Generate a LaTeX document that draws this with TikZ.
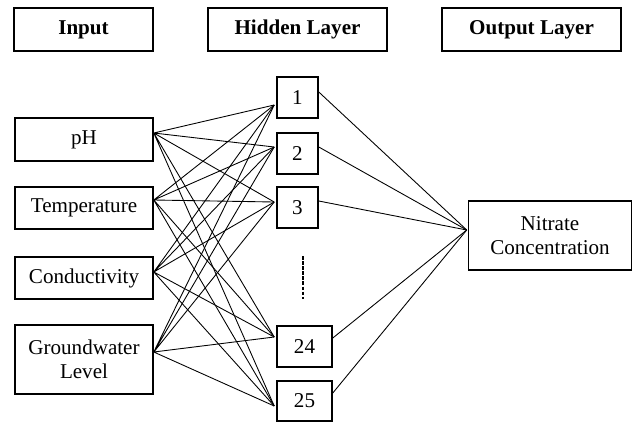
\documentclass[tikz,border=0pt]{standalone}
\usepackage{fontspec}
\setmainfont{Liberation Serif}

\begin{document}
\begin{tikzpicture}[x=0.02cm,y=-0.02cm,
  box/.style={draw,line width=0.9pt,inner sep=0pt,align=center,
    font=\fontsize{12}{13.5}\selectfont},
  head/.style={box,font=\fontsize{12}{13.5}\selectfont\bfseries,
    minimum width=3.58cm,minimum height=0.86cm},
  inbox/.style={box,minimum width=2.76cm,minimum height=0.84cm},
  hidbox/.style={box,minimum width=0.82cm,minimum height=0.82cm},
  link/.style={line width=0.5pt}]
  \useasboundingbox (0,0) rectangle (635,423);
  % column headings
  \node[head,minimum width=2.78cm] (HIn) at (83.5,29.5) {Input};
  \node[head] (HHid) at (297.5,29.5) {Hidden Layer};
  \node[head] (HOut) at (531.5,29.5) {Output Layer};
  % input variables
  \node[inbox,minimum height=0.86cm] (PH) at (84,139.5) {pH};
  \node[inbox] (TEMP) at (84,208) {Temperature};
  \node[inbox] (COND) at (84,278) {Conductivity};
  \node[inbox,minimum height=1.38cm] (GWL) at (84,359.5) {Groundwater\\Level};
  % hidden neurons
  \node[hidbox] (H1) at (297.5,97.5) {1};
  \node[hidbox] (H2) at (297.5,153.5) {2};
  \node[hidbox] (H3) at (297.5,207.5) {3};
  \node[hidbox,minimum width=1.1cm] (H24) at (304.5,346.5) {24};
  \node[hidbox,minimum width=1.1cm,minimum height=0.8cm] (H25) at (304.5,401) {25};
  % output
  \node[box,minimum width=3.26cm,minimum height=1.38cm] (NIT) at (550,235.5)
    {Nitrate\\Concentration};
  % ports where the links meet the boxes
  \coordinate (PHr) at ([yshift=0.13cm]PH.east);
  \coordinate (TEMPr) at ([yshift=0.16cm]TEMP.east);
  \coordinate (CONDr) at ([yshift=0.12cm]COND.east);
  \coordinate (GWLr) at ([yshift=0.15cm]GWL.east);
  \coordinate (H1l) at ([xshift=-0.04cm,yshift=-0.15cm]H1.west);
  \coordinate (H2l) at ([xshift=-0.04cm,yshift=0.13cm]H2.west);
  \coordinate (H3l) at ([xshift=-0.04cm,yshift=0.11cm]H3.west);
  \coordinate (H24l) at ([xshift=-0.04cm,yshift=0.19cm]H24.west);
  \coordinate (H25l) at ([xshift=-0.04cm,yshift=-0.1cm]H25.west);
  \coordinate (H1r) at ([yshift=0.11cm]H1.east);
  \coordinate (H2r) at ([yshift=0.13cm]H2.east);
  \coordinate (H3r) at ([yshift=0.13cm]H3.east);
  \coordinate (H24r) at ([yshift=0.17cm]H24.east);
  \coordinate (H25r) at ([yshift=0.16cm]H25.east);
  \coordinate (NITl) at ([xshift=-0.02cm,yshift=0.11cm]NIT.west);
  % input to hidden
  \draw[link] (PHr) -- (H1l) (PHr) -- (H2l) (PHr) -- (H3l) (PHr) -- (H24l) (PHr) -- (H25l);
  \draw[link] (TEMPr) -- (H1l) (TEMPr) -- (H2l) (TEMPr) -- (H3l) (TEMPr) -- (H24l) (TEMPr) -- (H25l);
  \draw[link] (CONDr) -- (H1l) (CONDr) -- (H2l) (CONDr) -- (H3l) (CONDr) -- (H24l) (CONDr) -- (H25l);
  \draw[link] (GWLr) -- (H1l) (GWLr) -- (H2l) (GWLr) -- (H3l) (GWLr) -- (H24l) (GWLr) -- (H25l);
  % hidden to output
  \draw[link] (H1r) -- (NITl);
  \draw[link] (H2r) -- (NITl);
  \draw[link] (H3r) -- (NITl);
  \draw[link] (H24r) -- (NITl);
  \draw[link] (H25r) -- (NITl);
  % skipped neurons
  \coordinate (DTop) at (303,256);
  \coordinate (DBot) at (303,299);
  \draw[line width=1.7pt,dash pattern=on 2pt off 0.9pt] (DTop) -- (DBot);
\end{tikzpicture}
\end{document}
